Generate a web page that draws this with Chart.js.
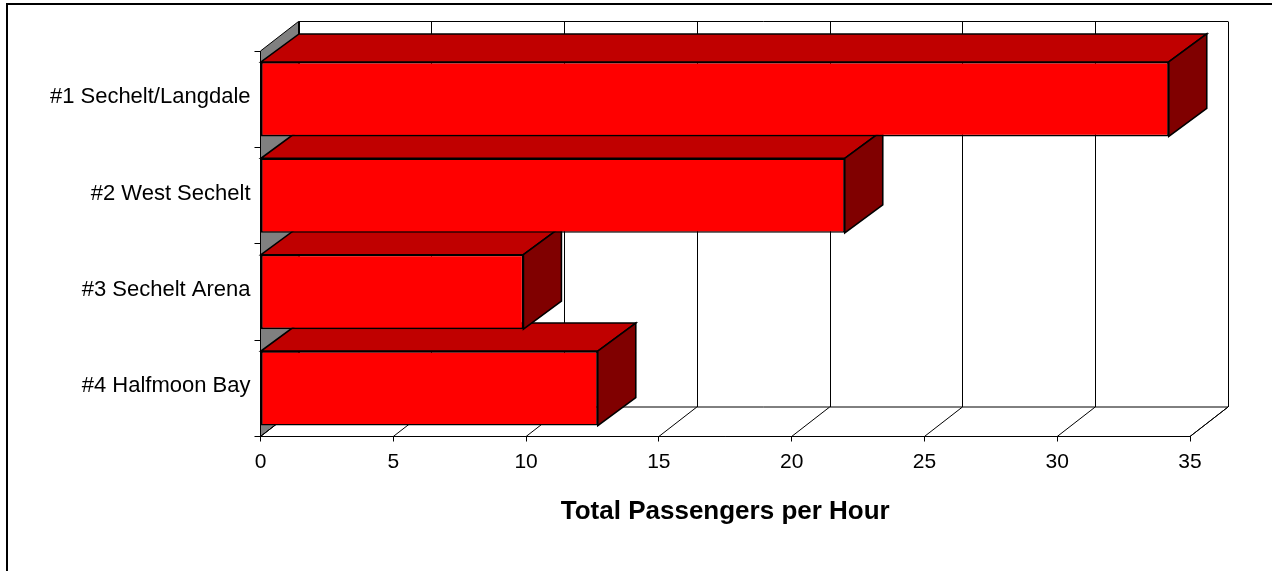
<!DOCTYPE html>
<html>
<head>
<meta charset="utf-8">
<script src="https://cdn.jsdelivr.net/npm/chart.js@4.4.0/dist/chart.umd.min.js"></script>
<style>
  html, body { margin: 0; padding: 0; background: #fff; }
  #wrap { width: 1272px; height: 571px; }
</style>
</head>
<body>
<div id="wrap"><canvas id="chart"></canvas></div>
<script>
const routes = ['#1 Sechelt/Langdale', '#2 West Sechelt', '#3 Sechelt Arena', '#4 Halfmoon Bay'];
const passengersPerHour = [34.2, 22.0, 9.9, 12.7];
const xTicks = [0, 5, 10, 15, 20, 25, 30, 35];

// oblique depth of the 3d box
const DEPTH_X = 38;
const WALL_DY = -29.5;
const BAR_DY = -28;

function poly(ctx, pts, fill, stroke, lw) {
  ctx.beginPath();
  ctx.moveTo(pts[0][0], pts[0][1]);
  for (let i = 1; i < pts.length; i++) ctx.lineTo(pts[i][0], pts[i][1]);
  ctx.closePath();
  if (fill) { ctx.fillStyle = fill; ctx.fill(); }
  if (stroke) { ctx.strokeStyle = stroke; ctx.lineWidth = lw || 1; ctx.stroke(); }
}

function seg(ctx, x1, y1, x2, y2) {
  ctx.beginPath();
  ctx.moveTo(x1, y1);
  ctx.lineTo(x2, y2);
  ctx.stroke();
}

const box3d = {
  id: 'box3d',
  beforeDraw(chart) {
    const {ctx, chartArea: a} = chart;
    const x = chart.scales.x;
    ctx.save();
    ctx.lineJoin = 'miter';

    // outer frame (cut off at right and bottom)
    ctx.strokeStyle = '#000';
    ctx.lineWidth = 2;
    ctx.strokeRect(7, 4, 1320, 620);

    const bl = a.left + DEPTH_X, br = a.right + DEPTH_X;
    const bt = a.top + WALL_DY, bb = a.bottom + WALL_DY;

    // back wall
    ctx.fillStyle = '#fff';
    ctx.fillRect(bl, bt, br - bl, bb - bt);
    // side wall
    poly(ctx, [[a.left, a.top], [bl, bt], [bl, bb], [a.left, a.bottom]], '#808080', '#000', 1);
    // floor
    poly(ctx, [[a.left, a.bottom], [a.right, a.bottom], [br, bb], [bl, bb]], '#fff', '#000', 1);

    // grid: floor diagonals + back wall verticals
    ctx.strokeStyle = '#000';
    ctx.lineWidth = 1;
    xTicks.forEach(v => {
      const px = x.getPixelForValue(v);
      const bx = Math.round(px + DEPTH_X) + 0.5;
      seg(ctx, px, a.bottom, px + DEPTH_X, bb);
      seg(ctx, bx, bb, bx, bt);
    });
    seg(ctx, bl, bt, br, bt);
    ctx.restore();
  },
  beforeDatasetsDraw(chart) {
    const {ctx} = chart;
    const meta = chart.getDatasetMeta(0);
    ctx.save();
    ctx.lineJoin = 'miter';
    for (let i = meta.data.length - 1; i >= 0; i--) {
      const {x, y, base, height} = meta.data[i].getProps(['x', 'y', 'base', 'height'], true);
      const top = y - height / 2, bot = y + height / 2;
      // top face
      poly(ctx, [[base, top], [x, top], [x + DEPTH_X, top + BAR_DY], [base + DEPTH_X, top + BAR_DY]], '#C00000', '#000', 1.6);
      // end face
      poly(ctx, [[x, top], [x + DEPTH_X, top + BAR_DY], [x + DEPTH_X, bot + BAR_DY], [x, bot]], '#800000', '#000', 1.6);
    }
    ctx.restore();
  }
};

Chart.defaults.font.family = '"Liberation Sans", Arial, sans-serif';
Chart.defaults.color = '#000';

new Chart(document.getElementById('chart'), {
  type: 'bar',
  data: {
    labels: routes,
    datasets: [{
      label: 'Total Passengers per Hour',
      data: passengersPerHour,
      backgroundColor: '#FF0000',
      borderColor: '#000',
      borderWidth: 1.6,
      borderSkipped: false,
      barPercentage: 0.773,
      categoryPercentage: 1
    }]
  },
  options: {
    indexAxis: 'y',
    responsive: true,
    maintainAspectRatio: false,
    animation: false,
    layout: { padding: { left: 8.5, top: 51, right: 82, bottom: 34.5 } },
    plugins: {
      legend: { display: false },
      tooltip: { enabled: false }
    },
    scales: {
      x: {
        min: 0,
        max: 35,
        afterBuildTicks: axis => { axis.ticks = xTicks.map(v => ({value: v})); },
        afterFit: axis => { axis.height = 100; },
        ticks: { font: { size: 21 }, color: '#000', padding: 8, maxRotation: 0 },
        grid: { drawOnChartArea: false, tickLength: 5, color: '#000' },
        border: { color: '#000', width: 1 },
        title: {
          display: true,
          text: 'Total Passengers per Hour',
          color: '#000',
          font: { size: 26, weight: 'bold' },
          padding: { top: 0, bottom: 8.9 }
        }
      },
      y: {
        afterFit: axis => { axis.width = 252; },
        ticks: { font: { size: 22 }, color: '#000', padding: 4, labelOffset: -2 },
        grid: { drawOnChartArea: false, tickLength: 6, color: '#000', offset: true },
        border: { color: '#000', width: 1 }
      }
    }
  },
  plugins: [box3d]
});
</script>
</body>
</html>
